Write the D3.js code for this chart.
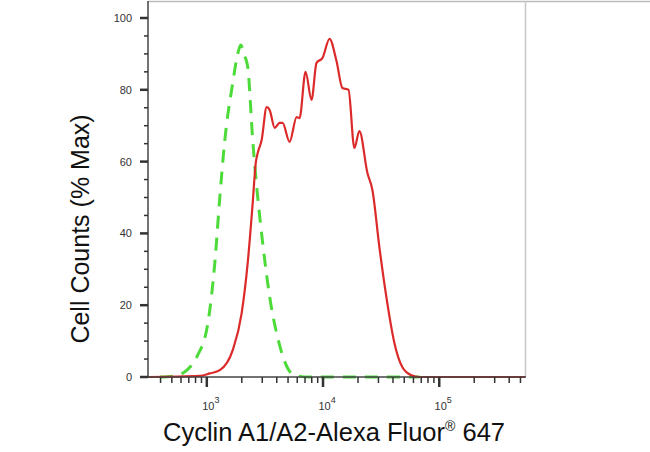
<!DOCTYPE html>
<html><head><meta charset="utf-8">
<script src="https://cdn.jsdelivr.net/npm/d3@7"></script>
<style>body{margin:0;background:#fff;} svg{display:block;font-family:Arial,"Liberation Sans",sans-serif;}</style>
</head><body>
<svg id="c" width="650" height="452"></svg>
<script>
// log10 fluorescence, % max
const sampleLog = [2.494,2.94,3.026,3.112,3.223,3.300,3.352,3.395,3.421,3.438,3.472,3.515,3.541,3.584,3.627,3.652,3.712,3.773,3.798,3.850,3.901,3.944,3.996,4.056,4.116,4.167,4.219,4.270,4.313,4.382,4.425,4.485,4.545,4.614,4.682,4.760,4.83,5.738];
const sampleVal = [0,0.3,1,1.9,7.5,17.8,31.8,48.5,59.6,62.4,66.0,75.2,74.4,69.4,70.8,70.8,65.5,72.4,72.1,85.0,77.2,87.5,88.9,94.2,88.0,80.5,80.0,63.8,68.5,56.8,52.1,36.2,22.3,9.5,2.8,0.5,0,0];
const controlLog = [2.597,2.725,2.828,2.914,3.009,3.069,3.112,3.155,3.223,3.266,3.292,3.318,3.352,3.395,3.438,3.481,3.541,3.609,3.695,3.755,3.88,4.83];
const controlVal = [0,0.3,1.9,5.6,15.0,31.8,50.1,66.0,81.9,90,92.5,90,86.4,66.0,50.1,37.3,22.3,11.1,2.5,0.5,0,0];
const yTicks = [0,20,40,60,80,100];
const xMajor = [3,4,5];
const xTitle = "Cyclin A1/A2-Alexa Fluor";
const yTitle = "Cell Counts (% Max)";

const svg = d3.select("#c");
const L=148,R=525,T=1,B=377;
const x = d3.scaleLinear().domain([2.494,5.738]).range([L,R]);
const y = d3.scaleLinear().domain([0,100]).range([B,18]);

// frame (light)
svg.append("line").attr("x1",L).attr("x2",650).attr("y1",T+0.5).attr("y2",T+0.5).attr("stroke","#bbb").attr("stroke-width",1.5);
svg.append("line").attr("x1",R+0.5).attr("x2",R+0.5).attr("y1",T).attr("y2",B).attr("stroke","#c8c8c8").attr("stroke-width",1.5);

const line = d3.line().x(d=>x(d[0])).y(d=>y(d[1])).curve(d3.curveMonotoneX);
svg.append("path").datum(controlLog.map((v,i)=>[v,controlVal[i]]))
  .attr("d",line).attr("fill","none").attr("stroke","#4ddb3a").attr("stroke-width",3)
  .attr("stroke-dasharray","13,9");
svg.append("path").datum(sampleLog.map((v,i)=>[v,sampleVal[i]]))
  .attr("d",line).attr("fill","none").attr("stroke","#dc2a2a").attr("stroke-width",2.2);

// y axis
const ya = svg.append("g").attr("transform",`translate(${L},0)`);
ya.append("line").attr("x1",0).attr("x2",0).attr("y1",T).attr("y2",B+1).attr("stroke","#444").attr("stroke-width",1.5);
d3.range(0,101,5).forEach(v=>{
  const major = v%20===0;
  ya.append("line").attr("x1",major?-8:-4).attr("x2",0).attr("y1",y(v)).attr("y2",y(v))
    .attr("stroke","#333").attr("stroke-width",major?2.5:1.5);
});
ya.selectAll("text.yt").data(yTicks).join("text").attr("class","yt")
  .attr("x",-16).attr("y",d=>y(d)+4).attr("text-anchor","end")
  .attr("font-size",11).attr("fill","#333").text(d=>d);

// x axis
const xa = svg.append("g").attr("transform",`translate(0,${B})`);
xa.append("line").attr("x1",L).attr("x2",R+1).attr("y1",0).attr("y2",0).attr("stroke","#444").attr("stroke-width",1.5);
const minors=[];
[2,3,4,5].forEach(d=>{for(let k=2;k<=9;k++){const v=d+Math.log10(k); if(v>x.domain()[0]&&v<x.domain()[1]) minors.push(v);}});
minors.forEach(v=>xa.append("line").attr("x1",x(v)).attr("x2",x(v)).attr("y1",0).attr("y2",6).attr("stroke","#333").attr("stroke-width",1.5));
xMajor.forEach(v=>{
  xa.append("line").attr("x1",x(v)).attr("x2",x(v)).attr("y1",0).attr("y2",10).attr("stroke","#333").attr("stroke-width",2.5);
  const t = xa.append("text").attr("x",x(v)+4).attr("y",33).attr("text-anchor","middle").attr("font-size",11).attr("fill","#333");
  t.append("tspan").text("10");
  t.append("tspan").attr("dy",-7).attr("font-size",9).text(v);
});

// titles
const xt = svg.append("text").attr("x",334).attr("y",441).attr("text-anchor","middle").attr("font-size",25.5).attr("fill","#111");
xt.append("tspan").text(xTitle);
xt.append("tspan").attr("dy",-10).attr("font-size",14).text("®");
xt.append("tspan").attr("dy",10).text(" 647");
svg.append("text").attr("transform","translate(89,229) rotate(-90)").attr("text-anchor","middle")
  .attr("font-size",25).attr("fill","#111").text(yTitle);
</script>
</body></html>
